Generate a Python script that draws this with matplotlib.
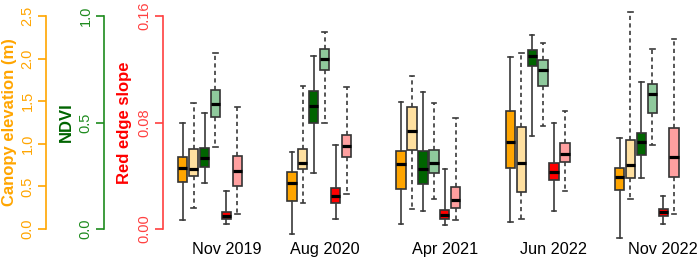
import matplotlib
matplotlib.use('Agg')
import matplotlib.pyplot as plt

plt.rcParams['font.family'] = ['Liberation Sans', 'DejaVu Sans']

dates = ['Nov 2019', 'Aug 2020', 'Apr 2021', 'Jun 2022', 'Nov 2022']
label_pos = [5, 14, 25, 35, 45]

# five-number summaries per date: whisker low, Q1, median, Q3, whisker high
canopy_a = [[0.11, 0.55, 0.72, 0.84, 1.24], [-0.06, 0.33, 0.54, 0.665, 0.90],
            [0.06, 0.47, 0.76, 0.915, 1.49], [0.08, 0.72, 1.02, 1.39, 2.02],
            [-0.10, 0.46, 0.61, 0.72, 1.07]]
canopy_b = [[0.25, 0.62, 0.71, 0.94, 1.48], [0.30, 0.70, 0.78, 0.94, 1.68],
            [0.24, 0.93, 1.15, 1.43, 1.79], [0.12, 0.44, 0.77, 1.20, 2.06],
            [0.35, 0.60, 0.75, 1.04, 2.55]]
ndvi_a = [[0.215, 0.293, 0.332, 0.379, 0.543], [0.261, 0.496, 0.576, 0.649, 0.812],
          [0.083, 0.21, 0.28, 0.368, 0.645], [0.437, 0.764, 0.811, 0.84, 0.912],
          [0.238, 0.347, 0.408, 0.451, 0.689]]
ndvi_b = [[0.385, 0.524, 0.585, 0.653, 0.825], [0.498, 0.745, 0.80, 0.844, 0.925],
          [0.141, 0.263, 0.308, 0.372, 0.593], [0.485, 0.673, 0.745, 0.793, 0.875],
          [0.394, 0.543, 0.632, 0.681, 0.844]]
res_a = [[0.0038, 0.0075, 0.010, 0.0125, 0.0285], [0.0075, 0.0193, 0.0245, 0.0308, 0.0631],
         [0.003, 0.0075, 0.0108, 0.0143, 0.0453], [0.0135, 0.0366, 0.043, 0.0498, 0.0794],
         [0.0035, 0.010, 0.013, 0.0153, 0.0248]]
res_b = [[0.011, 0.0325, 0.0438, 0.0551, 0.0919], [0.0263, 0.0543, 0.0626, 0.0708, 0.1064],
         [0.007, 0.0155, 0.0218, 0.0313, 0.0832], [0.0288, 0.0501, 0.0563, 0.0644, 0.0889],
         [0.011, 0.039, 0.0541, 0.0756, 0.1425]]

canopy_ticks = [0.0, 0.5, 1.0, 1.5, 2.0, 2.5]
ndvi_ticks = [0.0, 0.5, 1.0]
res_ticks = [0.00, 0.08, 0.16]

# ---- layout (pixels) ----
FW, FH, DPI = 699, 259, 100
L, R = 168, 697
TOP, BOT = 5, 240
Y0, YMAX = 229, 16
X0, DX = 171.8, 10.92

fig = plt.figure(figsize=(FW / DPI, FH / DPI), dpi=DPI)
rect = [L / FW, (FH - BOT) / FH, (R - L) / FW, (BOT - TOP) / FH]
xlim = ((L - X0) / DX, (R - X0) / DX)


def ylim_for(vmax):
    per = vmax / (Y0 - YMAX)
    return (-(BOT - Y0) * per, vmax + (YMAX - TOP) * per)


def make_axis(vmax, spine_px, color, tcolor, ticks, fmt, title, title_px, tcolor_title):
    ax = fig.add_axes(rect)
    ax.set_facecolor('none')
    ax.set_xlim(*xlim)
    ax.set_ylim(*ylim_for(vmax))
    for s in ['top', 'right', 'bottom']:
        ax.spines[s].set_visible(False)
    sp = ax.spines['left']
    sp.set_position(('axes', (spine_px - L) / (R - L)))
    sp.set_bounds(0, vmax)
    sp.set_color(color)
    sp.set_linewidth(1.2)
    ax.set_yticks(ticks)
    ax.set_yticklabels([fmt.format(t) for t in ticks])
    ax.tick_params(axis='y', colors=color, labelcolor=tcolor, length=5.8, width=1.2,
                   labelsize=10.5, pad=2.5, labelrotation=90)
    for lab in ax.get_yticklabels():
        lab.set_va('center')
    ax.set_xticks([])
    fig.text(title_px / FW, 1 - 122.5 / FH, title, rotation=90, ha='center', va='center',
             color=tcolor_title, fontsize=12, fontweight='bold')
    return ax


ax_c = make_axis(2.5, 46, '#FFA500', '#FFA500', canopy_ticks, '{:.1f}',
                 'Canopy elevation (m)', 10, '#FFA500')
ax_n = make_axis(1.0, 104, '#1E8B1E', '#1E8B1E', ndvi_ticks, '{:.1f}',
                 'NDVI', 66, '#006400')
ax_r = make_axis(0.16, 163, '#FF4040', '#FF4040', res_ticks, '{:.2f}',
                 'Red edge slope', 124.5, '#FF0000')

series = [
    (ax_c, canopy_a, '#FFA500', 'solid'),
    (ax_c, canopy_b, '#FFE0A0', (0, (2.5, 2))),
    (ax_n, ndvi_a, '#006400', 'solid'),
    (ax_n, ndvi_b, '#8FC99C', (0, (2.5, 2))),
    (ax_r, res_a, '#FF0000', 'solid'),
    (ax_r, res_b, '#FFA0A0', (0, (2.5, 2))),
]

for k, (ax, data, col, ls) in enumerate(series):
    stats = [dict(whislo=d[0], q1=d[1], med=d[2], q3=d[3], whishi=d[4], fliers=[])
             for d in data]
    positions = [g * 10 + k + 1 for g in range(len(data))]
    ax.bxp(stats, positions=positions, widths=0.85, patch_artist=True, showfliers=False,
           boxprops=dict(facecolor=col, edgecolor='#333333', linewidth=1.2),
           medianprops=dict(color='black', linewidth=2.3, solid_capstyle='butt'),
           whiskerprops=dict(color='#3a3a3a', linewidth=1.2, linestyle=ls),
           capprops=dict(color='#3a3a3a', linewidth=1.2),
           capwidths=0.42, manage_ticks=False)

ax_c.set_xticks(label_pos)
ax_c.set_xticklabels(dates)
ax_c.tick_params(axis='x', length=0, pad=1.5, labelsize=11.7, labelcolor='black')
ax_c.set_xlim(*xlim)

fig.savefig('out.png', dpi=DPI)
